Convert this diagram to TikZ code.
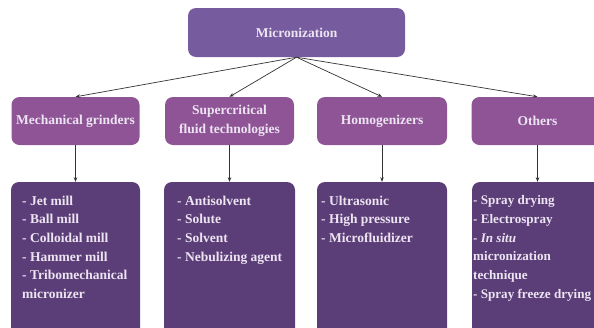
\documentclass[tikz,border=0pt]{standalone}
\usepackage{fontspec}
\setmainfont{Liberation Serif}
\usetikzlibrary{arrows.meta}
\definecolor{topc}{HTML}{765C9E}
\definecolor{midc}{HTML}{8E5496}
\definecolor{botc}{HTML}{5B3E78}
\definecolor{txtc}{HTML}{EDE4F2}
\definecolor{linec}{HTML}{333333}
\begin{document}
\begin{tikzpicture}[x=1pt,y=-1pt,
  box/.style={rounded corners=8pt, inner sep=0pt, font=\fontsize{13.5}{18.5}\selectfont\bfseries, text=txtc, align=center},
  midbox/.style={box, fill=midc, minimum height=48pt},
  botbox/.style={box, fill=botc, minimum height=158pt},
  btext/.style={inner sep=0pt, align=left, anchor=north west, text=txtc, font=\fontsize{13.5}{18.7}\selectfont\bfseries},
  conn/.style={draw=linec, line width=0.7pt, -{Stealth[length=4.5pt,width=3.5pt]}}]
\useasboundingbox (0,0) rectangle (594,327);
\clip (0,0) rectangle (594,327);
\node[box, fill=topc, minimum width=217pt, minimum height=49pt] (top) at (296.5,32.5) {Micronization};
\node[midbox, minimum width=128pt] (c1) at (75.5,121) {Mechanical grinders};
\node[midbox, minimum width=129pt] (c2) at (229.5,121) {Supercritical\\fluid technologies};
\node[midbox, minimum width=130pt] (c3) at (382,121) {Homogenizers};
\node[midbox, minimum width=132pt] (c4) at (537.5,121) {Others};
\node[botbox, minimum width=129pt] (b1) at (75.5,261) {};
\node[botbox, minimum width=131pt] (b2) at (229.5,261) {};
\node[botbox, minimum width=130pt] (b3) at (382,261) {};
\node[botbox, minimum width=131pt] (b4) at (537.5,261) {};
\node[btext] (t1) at (22,195.5) {- Jet mill\\- Ball mill\\- Colloidal mill\\- Hammer mill\\- Tribomechanical\\micronizer};
\node[btext] (t2) at (177,195.5) {- Antisolvent\\- Solute\\- Solvent\\- Nebulizing agent};
\node[btext] (t3) at (321,195.5) {- Ultrasonic\\- High pressure\\- Microfluidizer};
\node[btext, font=\fontsize{13.1}{18.7}\selectfont\bfseries] (t4) at (473,195.5) {- Spray drying\\- Electrospray\\- \textit{In situ}\\micronization\\technique\\- Spray freeze drying};
\foreach \c in {c1,c2,c3,c4} \draw[conn] (top.south) -- (\c.north);
\draw[conn] (c1.south) -- (b1.north);
\draw[conn] (c2.south) -- (b2.north);
\draw[conn] (c3.south) -- (b3.north);
\draw[conn] (c4.south) -- (b4.north);
\end{tikzpicture}
\end{document}
